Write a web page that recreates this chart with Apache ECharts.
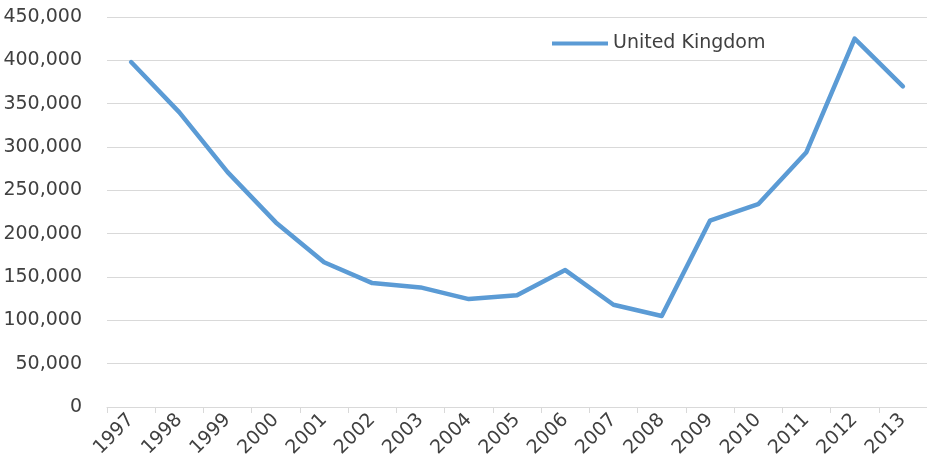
<!DOCTYPE html>
<html><head><meta charset="utf-8">
<script src="https://cdn.jsdelivr.net/npm/echarts@6/dist/echarts.min.js"></script>
<style>html,body{margin:0;padding:0;background:#fff}#c{width:927px;height:474px}</style>
</head><body><div id="c"></div>
<script>
const years = ['1997','1998','1999','2000','2001','2002','2003','2004','2005','2006','2007','2008','2009','2010','2011','2012','2013'];
const ukValues = [398000,340000,271000,213000,167000,143000,138000,124500,129000,158000,118000,105000,215000,234000,294000,425000,370000];
const seriesName = 'United Kingdom';

const chart = echarts.init(document.getElementById('c'));
const font = '"DejaVu Sans", sans-serif';
const txt = '#404040';
chart.setOption({
  animation:false,
  textStyle:{fontFamily:font},
  grid:{left:107,right:0,top:17,bottom:67,containLabel:false},
  legend:{
    data:[seriesName], left:547, top:29, itemWidth:56, itemHeight:4, itemGap:0,
    textStyle:{fontFamily:font,fontSize:19,color:txt},
    icon:'rect'
  },
  xAxis:{
    type:'category', data:years, boundaryGap:true,
    axisLine:{lineStyle:{color:'#d9d9d9',width:1}},
    axisTick:{show:true,alignWithLabel:false,length:6,lineStyle:{color:'#d9d9d9'}},
    axisLabel:{rotate:45,fontSize:19,color:txt,fontFamily:font,margin:10}
  },
  yAxis:{
    type:'value', min:0, max:450000, interval:50000,
    axisLine:{show:false}, axisTick:{show:false},
    splitLine:{lineStyle:{color:'#d9d9d9',width:1}},
    axisLabel:{fontSize:19,color:txt,fontFamily:font,margin:25,
      formatter:v=>v.toLocaleString('en-US')}
  },
  series:[{
    name:seriesName, type:'line', data:ukValues, showSymbol:false, symbol:'none',
    lineStyle:{color:'#5b9bd5',width:4.5,cap:'round',join:'round'},
    itemStyle:{color:'#5b9bd5'}
  }]
});
</script></body></html>
